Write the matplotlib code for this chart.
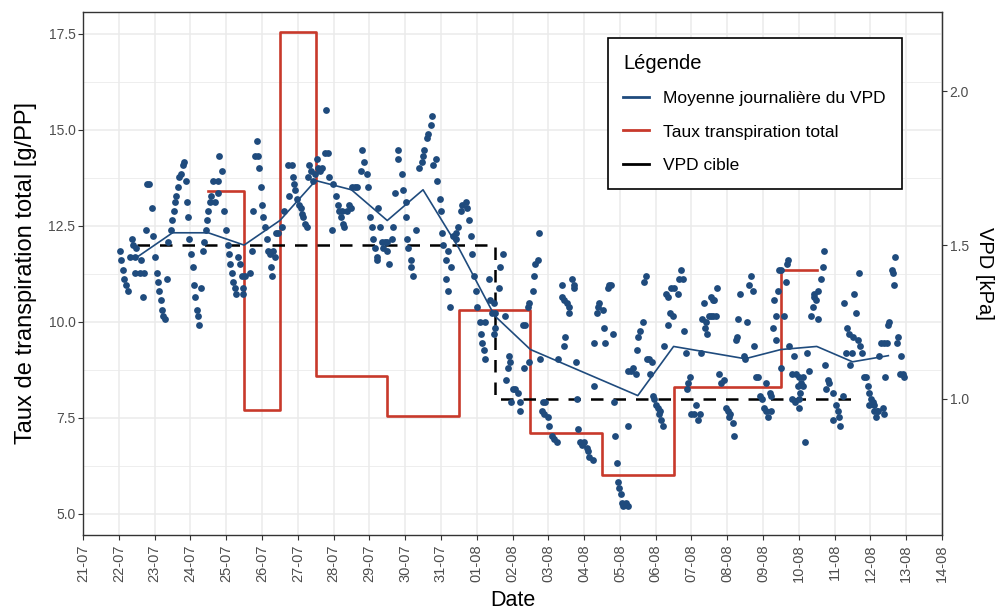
import numpy as np
import pandas as pd
import matplotlib
matplotlib.use("Agg")
import matplotlib.pyplot as plt
import matplotlib.dates as mdates
from matplotlib.lines import Line2D

plt.rcParams['font.family'] = ['Liberation Sans', 'DejaVu Sans']

DEBUT = pd.Timestamp("2021-07-21")
FIN = pd.Timestamp("2021-08-14")
COEF = 8  # VPD (kPa) -> échelle de l'axe de gauche

BLEU = '#1f4b7d'
ROUGE = '#c8392b'

# VPD mesuré : (jours depuis le 21-07, kPa)
vpd_obs = [
    (1.03, 1.48), (1.06, 1.45), (1.12, 1.42), (1.15, 1.39), (1.20, 1.37), (1.26, 1.35), (1.37, 1.52),
    (1.40, 1.50), (1.48, 1.49), (1.31, 1.46), (1.45, 1.46), (1.62, 1.45), (1.45, 1.41), (1.59, 1.41),
    (1.71, 1.41), (1.68, 1.33), (1.76, 1.55), (1.93, 1.62), (1.79, 1.70), (1.85, 1.70), (1.96, 1.53),
    (2.01, 1.46), (2.07, 1.41), (2.10, 1.38), (2.13, 1.35), (2.18, 1.32), (2.21, 1.29), (2.24, 1.27),
    (2.29, 1.26), (2.35, 1.39), (2.38, 1.51), (2.46, 1.55), (2.49, 1.58), (2.55, 1.61), (2.57, 1.64),
    (2.60, 1.66), (2.66, 1.69), (2.69, 1.72), (2.74, 1.73), (2.80, 1.76), (2.83, 1.77), (2.88, 1.71),
    (2.91, 1.64), (2.94, 1.59), (2.97, 1.52), (3.02, 1.47), (3.08, 1.43), (3.10, 1.37), (3.30, 1.36),
    (3.13, 1.33), (3.19, 1.29), (3.22, 1.27), (3.24, 1.24), (3.36, 1.48), (3.38, 1.51), (3.44, 1.55),
    (3.47, 1.58), (3.50, 1.61), (3.55, 1.64), (3.58, 1.66), (3.64, 1.71), (3.78, 1.71), (3.69, 1.64),
    (3.80, 1.79), (3.89, 1.74), (3.78, 1.67), (3.94, 1.61), (4.00, 1.55), (4.06, 1.50), (4.08, 1.47),
    (4.11, 1.44), (4.17, 1.41), (4.20, 1.38), (4.25, 1.36), (4.28, 1.34), (4.34, 1.46), (4.39, 1.44),
    (4.45, 1.40), (4.53, 1.40), (4.48, 1.36), (4.48, 1.34), (4.73, 1.48), (4.67, 1.41), (4.76, 1.61),
    (4.87, 1.84), (4.81, 1.79), (4.90, 1.79), (4.92, 1.75), (4.98, 1.69), (5.01, 1.63), (5.03, 1.59),
    (5.09, 1.56), (5.15, 1.52), (5.17, 1.48), (5.23, 1.47), (5.26, 1.43), (5.29, 1.40), (5.31, 1.48),
    (5.37, 1.46), (5.40, 1.54), (5.45, 1.54), (5.57, 1.56), (5.62, 1.61), (5.73, 1.76),
    (5.76, 1.66), (5.85, 1.76), (5.87, 1.72), (5.90, 1.70), (5.93, 1.68), (5.99, 1.65), (6.04, 1.63),
    (6.10, 1.62), (6.13, 1.60), (6.15, 1.59), (6.21, 1.57), (6.27, 1.56), (6.32, 1.76), (6.29, 1.72),
    (6.38, 1.74), (6.43, 1.71), (6.49, 1.73), (6.55, 1.78), (6.57, 1.75), (6.63, 1.74), (6.69, 1.75),
    (6.80, 1.94), (6.77, 1.80), (6.85, 1.80), (6.88, 1.72), (6.97, 1.55), (6.99, 1.70), (7.08, 1.66),
    (7.13, 1.63), (7.16, 1.61), (7.22, 1.59), (7.27, 1.57), (7.30, 1.56), (7.24, 1.61), (7.38, 1.61),
    (7.44, 1.63), (7.50, 1.62), (7.52, 1.69), (7.61, 1.69), (7.66, 1.69), (7.80, 1.81), (7.86, 1.77),
    (7.78, 1.74), (7.94, 1.73), (7.97, 1.69), (8.03, 1.59), (8.08, 1.56), (8.11, 1.52), (8.17, 1.49),
    (8.20, 1.46), (8.22, 1.45), (8.25, 1.62), (8.31, 1.56), (8.36, 1.51), (8.39, 1.49), (8.45, 1.51),
    (8.50, 1.51), (8.56, 1.44), (8.50, 1.48), (8.62, 1.52), (8.67, 1.56), (8.73, 1.67), (8.81, 1.81),
    (8.81, 1.78), (8.90, 1.73), (8.95, 1.68), (9.01, 1.64), (9.03, 1.59), (9.06, 1.52), (9.09, 1.49),
    (9.15, 1.45), (9.17, 1.43), (9.23, 1.40), (9.31, 1.55), (9.40, 1.75), (9.48, 1.77), (9.51, 1.79),
    (9.54, 1.81), (9.62, 1.85), (9.65, 1.86), (9.71, 1.89), (9.76, 1.92), (9.85, 1.78), (9.79, 1.76),
    (9.90, 1.71), (9.96, 1.65), (10.01, 1.61), (10.04, 1.54), (10.07, 1.50), (10.13, 1.45), (10.15, 1.39),
    (10.21, 1.48), (10.27, 1.43), (10.21, 1.35), (10.35, 1.53), (10.41, 1.54), (10.41, 1.52), (10.49, 1.56),
    (10.55, 1.61), (10.60, 1.63), (10.69, 1.64), (10.74, 1.62), (10.77, 1.58), (10.24, 1.30),
    (10.85, 1.53), (10.88, 1.47), (10.91, 1.40), (10.97, 1.35), (11.02, 1.30), (11.08, 1.25), (11.24, 1.25),
    (11.33, 1.39), (11.38, 1.32), (11.47, 1.31), (11.52, 1.28), (11.44, 1.28), (11.61, 1.36), (11.66, 1.43),
    (11.72, 1.47), (11.78, 1.27), (11.13, 1.21), (11.16, 1.18), (11.19, 1.16), (11.24, 1.13), (11.47, 1.21),
    (11.50, 1.23), (11.83, 1.06), (11.89, 1.14), (11.94, 1.12), (11.86, 1.10), (12.00, 1.03), (12.08, 1.03),
    (12.14, 1.02), (11.97, 0.99), (12.20, 0.99), (12.22, 0.96), (12.31, 1.10), (12.28, 1.24), (12.36, 1.24),
    (12.42, 1.30), (12.47, 1.31), (12.56, 1.35), (12.59, 1.40), (12.64, 1.44), (12.70, 1.45), (12.73, 1.54),
    (12.47, 1.12), (12.76, 1.13), (12.84, 0.99), (12.92, 0.99), (12.81, 0.96), (12.87, 0.95), (12.98, 0.94),
    (13.01, 0.91), (13.09, 0.88), (13.15, 0.87), (13.23, 0.86), (13.26, 1.13), (13.37, 1.37), (13.37, 1.33),
    (13.43, 1.32), (13.51, 1.31), (13.57, 1.30), (13.59, 1.28), (13.65, 1.39), (13.71, 1.37), (13.73, 1.36),
    (13.45, 1.17), (13.48, 1.20), (13.76, 1.12), (13.81, 1.00), (13.84, 0.90), (13.89, 0.86), (13.95, 0.85),
    (14.01, 0.86), (14.07, 0.84), (14.10, 0.83), (14.15, 0.81), (14.24, 0.80), (14.27, 1.18), (14.35, 1.28),
    (14.38, 1.30), (14.43, 1.31), (14.52, 1.29), (14.55, 1.23), (14.57, 1.18), (14.66, 1.36), (14.69, 1.37),
    (14.80, 1.21), (14.27, 1.04), (14.83, 0.99), (14.85, 0.88), (14.91, 0.79), (14.94, 0.73), (14.97, 0.71),
    (15.02, 0.69), (15.05, 0.66), (15.10, 0.65), (15.16, 0.66), (15.22, 0.65), (15.24, 0.91), (15.22, 1.09),
    (14.74, 1.37),
    (15.30, 1.09), (15.38, 1.10), (15.44, 1.08), (15.47, 1.16), (15.50, 1.20), (15.55, 1.22), (15.64, 1.25),
    (15.66, 1.38), (15.72, 1.40), (15.75, 1.13), (15.80, 1.13), (15.89, 1.12), (15.83, 1.08), (15.92, 1.01),
    (15.94, 1.00), (16.00, 0.98), (16.06, 0.97), (16.11, 0.96), (16.08, 0.95), (16.14, 0.93), (16.20, 0.91),
    (16.22, 1.17), (16.28, 1.34), (16.34, 1.33), (16.34, 1.24), (16.39, 1.28), (16.48, 1.27), (16.42, 1.36),
    (16.50, 1.36), (16.62, 1.34), (16.64, 1.39), (16.70, 1.42), (16.76, 1.39), (16.78, 1.22), (16.84, 1.15),
    (16.87, 1.03), (16.90, 1.05), (16.95, 1.07), (16.98, 0.95), (17.06, 0.95), (17.12, 0.98), (17.18, 0.93),
    (17.23, 0.95), (17.26, 1.15), (17.29, 1.26), (17.34, 1.31), (17.37, 1.23), (17.43, 1.21), (17.40, 1.25),
    (17.48, 1.27), (17.54, 1.27), (17.59, 1.27), (17.68, 1.27), (17.54, 1.33), (17.59, 1.32), (17.62, 1.32),
    (17.71, 1.36), (17.76, 1.08), (17.82, 1.05), (17.90, 1.06), (17.96, 0.97), (18.01, 0.96), (18.07, 0.95),
    (18.04, 0.94), (18.15, 0.92), (18.18, 0.88), (18.24, 1.19), (18.27, 1.20), (18.29, 1.26), (18.35, 1.34),
    (18.46, 1.14), (18.49, 1.13), (18.55, 1.25), (18.60, 1.37), (18.66, 1.40), (18.71, 1.35), (18.74, 1.17),
    (18.80, 1.07), (18.85, 1.07), (18.91, 1.01), (18.97, 1.00), (19.02, 0.97), (19.08, 0.96), (19.13, 0.94),
    (19.08, 1.05), (19.19, 1.02), (19.27, 1.23), (19.30, 1.32), (19.36, 1.27), (19.41, 1.35), (19.44, 1.42),
    (19.50, 1.10), (19.22, 1.01), (19.22, 0.96), (19.36, 1.19), (19.50, 1.42),
    (19.58, 1.27), (19.64, 1.38), (19.66, 1.44), (19.69, 1.45), (19.72, 1.17), (19.86, 1.14), (19.81, 1.08),
    (19.92, 1.08), (20.00, 1.07), (20.11, 1.07), (20.06, 1.05), (19.97, 1.04), (20.11, 1.04), (20.03, 1.02),
    (20.00, 1.00), (19.81, 1.00), (19.89, 0.99), (20.00, 0.97), (20.17, 0.86), (20.22, 1.15), (20.28, 1.09),
    (20.34, 1.27), (20.39, 1.30), (20.42, 1.33), (20.48, 1.32), (20.42, 1.34), (20.53, 1.35), (20.53, 1.26),
    (20.62, 1.39), (20.67, 1.43), (20.70, 1.48), (20.73, 1.11), (20.81, 1.06), (20.84, 1.05), (20.76, 1.03),
    (20.95, 1.02), (20.95, 0.93), (21.04, 0.98), (21.09, 0.96), (21.12, 0.94), (21.15, 0.91), (21.23, 1.01),
    (21.26, 1.31), (21.34, 1.23), (21.40, 1.21), (21.51, 1.20), (21.31, 1.15), (21.48, 1.15), (21.59, 1.28),
    (21.54, 1.34), (21.65, 1.19), (21.71, 1.17), (21.76, 1.15), (21.43, 1.11), (21.68, 1.41), (21.82, 1.07),
    (21.87, 1.07), (21.93, 1.04), (21.96, 1.02), (22.01, 1.00), (22.07, 0.99), (21.96, 0.98), (22.10, 0.98),
    (22.18, 0.96), (22.15, 0.94), (22.10, 0.96), (22.21, 0.96), (22.38, 0.95), (22.35, 0.97), (22.24, 1.14),
    (22.29, 1.18), (22.38, 1.18), (22.46, 1.18), (22.41, 1.07), (22.49, 1.24), (22.52, 1.25), (22.60, 1.42),
    (22.63, 1.41), (22.69, 1.46), (22.66, 1.37), (22.74, 1.18), (22.77, 1.20), (22.85, 1.14), (22.83, 1.08),
    (22.91, 1.08), (22.94, 1.07),
]

# moyenne journalière du VPD (à midi)
moy_jour = [1.5, 2.5, 3.5, 4.5, 5.5, 6.5, 7.5, 8.5, 9.5, 10.5, 11.5,
            12.5, 13.5, 14.5, 15.5, 16.5, 17.5, 18.5, 19.5, 20.5, 21.5, 22.5]
moy_vpd = [1.46, 1.54, 1.54, 1.50, 1.58, 1.71, 1.68, 1.58, 1.68, 1.49, 1.27,
           1.16, 1.11, 1.06, 1.01, 1.17, 1.15, 1.13, 1.16, 1.17, 1.12, 1.14]

# taux de transpiration total [g/PP], un palier par jour
transp_jour = [3.5, 4.5, 5.5, 6.5, 7.5, 8.5, 9.5, 10.5, 11.5,
               12.5, 13.5, 14.5, 15.5, 16.5, 17.5, 18.5, 19.5, 20.5]
transp_val = [13.4, 7.7, 17.55, 8.6, 8.6, 7.55, 7.55, 10.3, 10.3,
              7.1, 7.1, 6.0, 6.0, 8.3, 8.3, 8.3, 11.35, 11.35]

# consigne de VPD (kPa)
cible_jour = [1.5, 11.5, 21.5]
cible_vpd = [1.5, 1.0, 1.0]


def en_date(jours):
    return DEBUT + pd.to_timedelta(np.asarray(jours, dtype=float), unit='D')


obs_jour, obs_vpd = zip(*vpd_obs)

fig = plt.figure(figsize=(9.98, 6.15), dpi=100)
ax = fig.add_axes([0.0832, 0.1301, 0.8607, 0.8504])

ax.step(en_date(transp_jour), transp_val, where='post', color=ROUGE, lw=1.9, zorder=2)
ax.step(en_date(cible_jour), np.array(cible_vpd) * COEF, where='post', color='black',
        lw=1.8, ls=(0, (5, 4)), zorder=3, solid_joinstyle='round', dash_joinstyle='round')
ax.scatter(en_date(obs_jour), np.array(obs_vpd) * COEF, s=24, color=BLEU, lw=0, zorder=4)
ax.plot(en_date(moy_jour), np.array(moy_vpd) * COEF, color=BLEU, lw=1.2, zorder=5)

ax.set_xlim(DEBUT, FIN)
ax.set_ylim(4.45, 18.07)
ax.xaxis.set_major_locator(mdates.DayLocator())
ax.xaxis.set_major_formatter(mdates.DateFormatter('%d-%m'))
ax.set_yticks([5, 7.5, 10, 12.5, 15, 17.5])
ax.set_yticks([6.25, 8.75, 11.25, 13.75, 16.25], minor=True)
ax.yaxis.set_major_formatter(plt.FormatStrFormatter('%.1f'))

ax.grid(True, which='major', color='#ebebeb', lw=1.1, zorder=0)
ax.grid(True, which='minor', axis='y', color='#ebebeb', lw=0.6, zorder=0)
ax.set_axisbelow(True)
for s in ax.spines.values():
    s.set_color('#333333')
    s.set_linewidth(1.0)

ax.tick_params(which='major', direction='out', length=3.5, width=0.8, color='#333333',
               labelcolor='#4d4d4d', labelsize=10, pad=2)
ax.tick_params(which='minor', length=0)
ax.tick_params(axis='x', labelrotation=90, labelsize=10.5, pad=3)

ax.set_xlabel('Date', fontsize=15.5, labelpad=6)
ax.set_ylabel('Taux de transpiration total [g/PP]', fontsize=17, labelpad=8)

sec = ax.secondary_yaxis('right', functions=(lambda v: v / COEF, lambda v: v * COEF))
sec.set_yticks([1.0, 1.5, 2.0])
sec.yaxis.set_major_formatter(plt.FormatStrFormatter('%.1f'))
sec.tick_params(direction='out', length=3.5, width=0.8, color='#333333',
                labelcolor='#4d4d4d', labelsize=10, pad=2)
sec.spines['right'].set_color('#333333')
sec.set_ylabel('VPD [kPa]', fontsize=14.5, rotation=-90, labelpad=18)

poignees = [
    Line2D([], [], color=BLEU, lw=2),
    Line2D([], [], color=ROUGE, lw=2),
    Line2D([], [], color='black', lw=2),
]
leg = ax.legend(poignees, ['Moyenne journalière du VPD', 'Taux transpiration total', 'VPD cible'],
                title='Légende', loc='upper left', bbox_to_anchor=(0.609, 0.938),
                bbox_transform=fig.transFigure, borderaxespad=0, fontsize=12.5, title_fontsize=14.5,
                frameon=True, fancybox=False, edgecolor='black', framealpha=1,
                handlelength=1.45, handletextpad=0.85, labelspacing=1.05,
                borderpad=0.9, alignment='left')
leg.get_frame().set_linewidth(1.2)

fig.savefig('out.png', dpi=100, facecolor='white')
